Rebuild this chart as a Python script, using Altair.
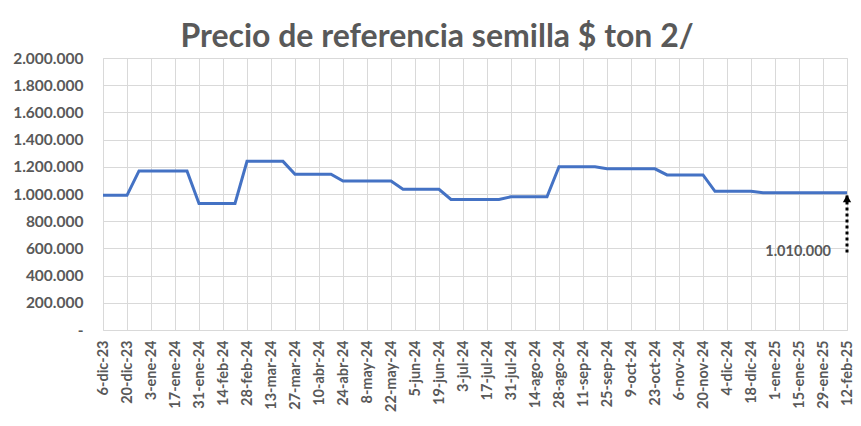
import altair as alt
import pandas as pd

# Tick labels (every two weeks)
tick_labels = ["6-dic-23", "20-dic-23", "3-ene-24", "17-ene-24", "31-ene-24", "14-feb-24",
               "28-feb-24", "13-mar-24", "27-mar-24", "10-abr-24", "24-abr-24", "8-may-24",
               "22-may-24", "5-jun-24", "19-jun-24", "3-jul-24", "17-jul-24", "31-jul-24",
               "14-ago-24", "28-ago-24", "11-sep-24", "25-sep-24", "9-oct-24", "23-oct-24",
               "6-nov-24", "20-nov-24", "4-dic-24", "18-dic-24", "1-ene-25", "15-ene-25",
               "29-ene-25", "12-feb-25"]

# Weekly prices ($/ton), week 0 = 6-dic-23 ... week 62 = 12-feb-25
prices = [990000, 990000, 990000,
          1170000, 1170000, 1170000, 1170000, 1170000,
          930000, 930000, 930000, 930000,
          1240000, 1240000, 1240000, 1240000,
          1145000, 1145000, 1145000, 1145000,
          1095000, 1095000, 1095000, 1095000, 1095000,
          1035000, 1035000, 1035000, 1035000,
          960000, 960000, 960000, 960000, 960000,
          980000, 980000, 980000, 980000,
          1200000, 1200000, 1200000, 1200000,
          1185000, 1185000, 1185000, 1185000, 1185000,
          1140000, 1140000, 1140000, 1140000,
          1020000, 1020000, 1020000, 1020000,
          1010000, 1010000, 1010000, 1010000, 1010000, 1010000, 1010000, 1010000]

weeks = list(range(len(prices)))

# Annotation
annot_week = [62]
annot_value = [1010000]
annot_label_y = [570000]

TEXT = "#595959"
GRID = "#d9d9d9"
FONT = "Lato"

df = pd.DataFrame({"week": weeks, "price": prices})
ann = pd.DataFrame({"week": annot_week, "value": annot_value, "ly": annot_label_y})

labels_js = "[" + ",".join("'" + s + "'" for s in tick_labels) + "]"

x_scale = alt.Scale(domain=[0, len(prices) - 1], nice=False, zero=False)
y_scale = alt.Scale(domain=[0, 2000000], nice=False)

x_axis = alt.Axis(
    values=list(range(0, len(prices), 2)), tickCount=200,
    labelExpr=labels_js + "[round(datum.value / 2)]",
    labelAngle=-90, labelAlign="right", labelBaseline="middle",
    labelFont=FONT, labelFontSize=14.5, labelFontWeight="bold", labelColor=TEXT,
    labelPadding=10, ticks=False, domain=False, grid=True, gridColor=GRID,
    title=None, labelOverlap=False,
)
y_axis = alt.Axis(
    values=list(range(0, 2000001, 200000)), tickCount=200,
    labelExpr="datum.value == 0 ? '-' : replace(format(datum.value, ',.0f'), regexp(',', 'g'), '.')",
    labelFont=FONT, labelFontSize=15.5, labelFontWeight="bold", labelColor=TEXT,
    labelPadding=20, ticks=False, domain=False, grid=True, gridColor=GRID,
    title=None, labelOverlap=False,
)

line = alt.Chart(df).mark_line(color="#4472C4", strokeWidth=3).encode(
    x=alt.X("week:Q", scale=x_scale, axis=x_axis),
    y=alt.Y("price:Q", scale=y_scale, axis=y_axis),
)

arrow = alt.Chart(ann).mark_rule(color="black", strokeWidth=3, strokeDash=[3, 3]).encode(
    x=alt.X("week:Q", scale=x_scale),
    y=alt.Y("ly:Q", scale=y_scale),
    y2=alt.Y2("value:Q"),
)
head = alt.Chart(ann).mark_point(shape="triangle-up", filled=True, color="black",
                                 size=70, opacity=1, yOffset=6).encode(
    x=alt.X("week:Q", scale=x_scale),
    y=alt.Y("value:Q", scale=y_scale),
)
label = alt.Chart(ann).transform_calculate(
    txt="replace(format(datum.value, ',.0f'), regexp(',', 'g'), '.')"
).mark_text(align="right", baseline="middle", dx=-16, font=FONT, fontSize=14.5,
            fontWeight="bold", color=TEXT).encode(
    x=alt.X("week:Q", scale=x_scale),
    y=alt.Y("ly:Q", scale=y_scale),
    text="txt:N",
)

chart = alt.layer(line, arrow, head, label).properties(
    width=744, height=272,
    title=alt.TitleParams("Precio de referencia semilla $ ton 2/", font=FONT, fontSize=32,
                          fontWeight="bold", color=TEXT, anchor="middle", dx=-38, offset=-3),
    autosize=alt.AutoSizeParams(type="none"),
    padding={"left": 95, "top": 50, "right": 6, "bottom": 88},
).configure_view(stroke=None).configure(background="white")

chart.save("out.html", embed_options={"renderer": "svg", "actions": False})
